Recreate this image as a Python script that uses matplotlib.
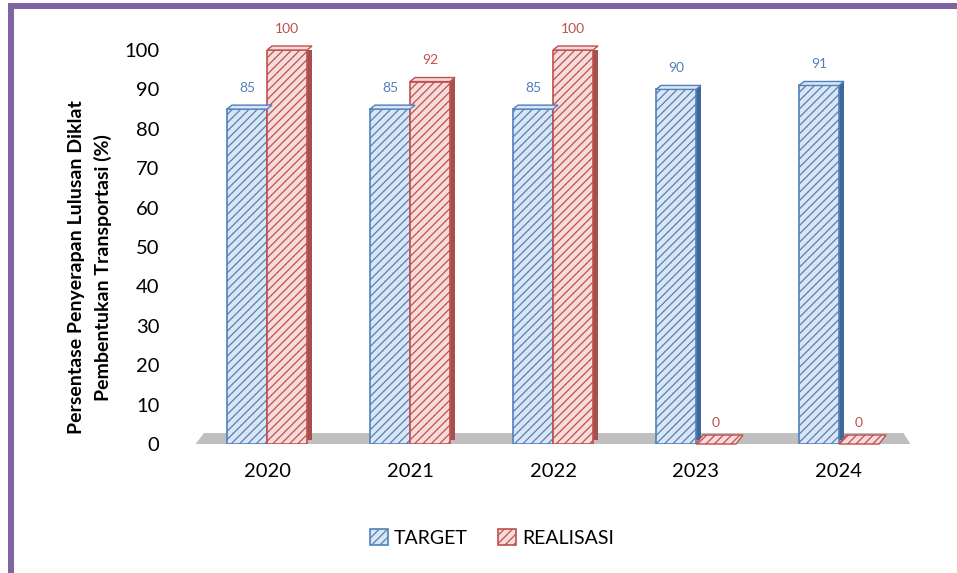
import matplotlib.pyplot as plt
import matplotlib.transforms as mtransforms
from matplotlib.patches import Polygon, Rectangle
import numpy as np

plt.rcParams['font.family'] = ['Lato', 'DejaVu Sans']
plt.rcParams['hatch.linewidth'] = 0.9

years = ["2020", "2021", "2022", "2023", "2024"]
target = [85, 85, 85, 90, 91]
realisasi = [100, 92, 100, 0, 0]
y_ticks = [0, 10, 20, 30, 40, 50, 60, 70, 80, 90, 100]

blue_edge = "#4F81BD"
blue_face = "#DCE6F2"
blue_dark = "#3F6799"
red_edge = "#C0504D"
red_face = "#F6DCDB"
red_dark = "#A5504D"

fig = plt.figure(figsize=(9.57, 5.73), dpi=100)
ax = fig.add_axes([0.2043, 0.2251, 0.7471, 0.6876])

x = np.arange(len(years))
w = 0.28
dx, dy = 5, 4  # depth in pixels

ax.set_xlim(-0.5, 4.5)
ax.set_ylim(0, 100)

# grey floor
floor = Polygon([(-0.5, 0), (4.5, 0), (4.45, 2.8), (-0.44, 2.8)],
                closed=True, facecolor="#BFBFBF", edgecolor="none", zorder=1)
ax.add_patch(floor)

# side faces: darker copy shifted up/right behind each bar
depth = mtransforms.offset_copy(ax.transData, fig=fig, x=dx, y=dy, units='dots')
ax.bar(x - w / 2, target, w, color=blue_dark, transform=depth, zorder=2)
ax.bar(x + w / 2, realisasi, w, color=red_dark, transform=depth, zorder=2)

b1 = ax.bar(x - w / 2, target, w, facecolor=blue_face, edgecolor=blue_edge,
            hatch='////', linewidth=1.2, zorder=3, label="TARGET")
b2 = ax.bar(x + w / 2, realisasi, w, facecolor=red_face, edgecolor=red_edge,
            hatch='////', linewidth=1.2, zorder=3, label="REALISASI")

# top faces (so a zero bar still shows as a flat slab)
for bars, fc, ec in [(b1, blue_face, blue_edge), (b2, red_face, red_edge)]:
    for r in bars:
        (x0, y0), (x1, _) = ax.transData.transform([(r.get_x(), r.get_height()),
                                                   (r.get_x() + r.get_width(), r.get_height())])
        hgt = dy if r.get_height() > 0 else 9
        off = dx if r.get_height() > 0 else 7
        top = Polygon([(x0, y0), (x1, y0), (x1 + off, y0 + hgt), (x0 + off, y0 + hgt)],
                      closed=True, transform=None, facecolor=fc, edgecolor=ec,
                      hatch='////' if r.get_height() == 0 else None, linewidth=1.0, zorder=2.5)
        fig.add_artist(top)

ax.bar_label(b1, padding=11, color="#4F81BD", fontsize=10)
ax.bar_label(b2, padding=11, color="#C0504D", fontsize=10)

ax.set_yticks(y_ticks)
ax.set_xticks(x)
ax.set_xticklabels(years)
ax.tick_params(axis='y', length=0, pad=26, labelsize=14.5)
ax.tick_params(axis='x', length=0, pad=14, labelsize=14.5)
for s in ax.spines.values():
    s.set_visible(False)

ax.set_ylabel("Persentase Penyerapan Lulusan Diklat\nPembentukan Transportasi (%)",
              fontsize=14, fontweight='bold', linespacing=1.6)
ax.yaxis.set_label_coords(-0.117, 0.449)

fig.legend(handles=[b1, b2], loc='center', bbox_to_anchor=(0.514, 0.061),
           ncol=2, frameon=False, fontsize=14, handlelength=0.9, handleheight=0.9,
           columnspacing=1.6, handletextpad=0.3)

# purple frame (left and top)
fig.add_artist(Rectangle((8 / 957, 0), 6 / 957, 1 - 3 / 573, transform=fig.transFigure,
                         facecolor="#8064A2", edgecolor="none"))
fig.add_artist(Rectangle((8 / 957, 1 - 9 / 573), 1, 6 / 573, transform=fig.transFigure,
                         facecolor="#8064A2", edgecolor="none"))

fig.savefig("out.png", dpi=100)
